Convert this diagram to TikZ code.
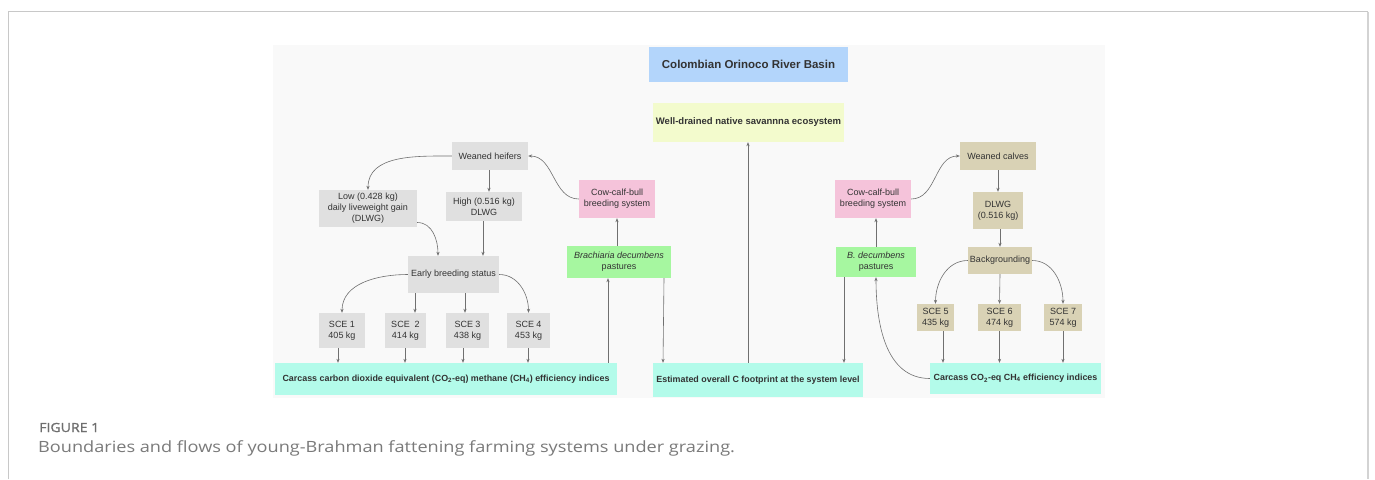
\documentclass[tikz,border=0pt]{standalone}
\usepackage{fontspec}
\setmainfont{Liberation Sans}
\newfontfamily\capfont[FakeStretch=1.17]{Open Sans}
\newfontfamily\figfont[FakeStretch=1.12,FakeBold=1.2]{Open Sans}
\usetikzlibrary{arrows.meta}
\definecolor{bgc}{HTML}{F9F9F9}
\definecolor{grayb}{HTML}{E0E0E0}
\definecolor{pinkb}{HTML}{F5C3DA}
\definecolor{greenb}{HTML}{A6F7A0}
\definecolor{tanb}{HTML}{D9D2B5}
\definecolor{aquab}{HTML}{B3FBEA}
\definecolor{blueb}{HTML}{B3D5FB}
\definecolor{yellowb}{HTML}{F3FBCD}
\definecolor{txt}{HTML}{333333}
\definecolor{linec}{HTML}{707070}
\definecolor{framec}{HTML}{C8C8C8}
\definecolor{capc}{HTML}{7A7A7A}
\definecolor{figc}{HTML}{6E6E6E}
\tikzset{
  box/.style={rectangle, inner sep=0pt, align=center, text=txt,
    font=\fontsize{9}{11}\selectfont},
  bbox/.style={box, font=\fontsize{8.9}{11}\selectfont\bfseries},
  arr/.style={draw=linec, line width=0.6pt, -{Stealth[length=4pt,width=3.2pt]}},
}
\begin{document}
\begin{tikzpicture}[x=1pt,y=1pt]
\useasboundingbox (0,0) rectangle (1375,-479);
\fill[white] (0,0) rectangle (1375,-479);
% frame
\draw[framec, line width=1pt] (8.5,-479) -- (8.5,-11.5) -- (1368,-11.5);
\draw[framec!80, line width=1.6pt] (1368,-11.5) -- (1368,-479);
% diagram background
\fill[bgc] (273,-45) rectangle (1105,-398);

% top
\node[bbox, fill=blueb, minimum width=199pt, minimum height=35pt, font=\fontsize{11.5}{13}\selectfont\bfseries] (basin) at (748.5,-64.5) {Colombian Orinoco River Basin};
\node[bbox, fill=yellowb, minimum width=191pt, minimum height=39pt, font=\fontsize{9.5}{11}\selectfont\bfseries] (sav) at (748.5,-122.5) {Well-drained native savannna ecosystem};
\node[bbox, fill=aquab, minimum width=210pt, minimum height=34pt] (est) at (758,-380) {Estimated overall C footprint at the system level};

% left branch
\node[box, fill=grayb, minimum width=76pt, minimum height=28pt] (heif) at (490,-156) {Weaned heifers};
\node[box, fill=grayb, minimum width=98pt, minimum height=37pt] (low) at (368,-208.5) {Low (0.428 kg)\\daily liveweight gain\\(DLWG)};
\node[box, fill=grayb, minimum width=76pt, minimum height=29pt] (high) at (484,-206.5) {High (0.516 kg)\\DLWG};
\node[box, fill=pinkb, minimum width=76pt, minimum height=38pt] (cow1) at (617,-199) {Cow-calf-bull\\breeding system};
\node[box, fill=greenb, minimum width=104pt, minimum height=32pt] (brach) at (619,-262) {\itshape Brachiaria decumbens\\pastures};
\node[box, fill=grayb, minimum width=91pt, minimum height=37pt] (early) at (453.5,-274.5) {Early breeding status};
\node[box, fill=grayb, minimum width=46pt, minimum height=35pt] (sce1) at (342,-330.5) {SCE 1\\405 kg};
\node[box, fill=grayb, minimum width=41pt, minimum height=35pt] (sce2) at (405.5,-330.5) {SCE~~2\\414 kg};
\node[box, fill=grayb, minimum width=43pt, minimum height=35pt] (sce3) at (467.5,-330.5) {SCE 3\\438 kg};
\node[box, fill=grayb, minimum width=43pt, minimum height=35pt] (sce4) at (528.5,-330.5) {SCE 4\\453 kg};
\node[bbox, fill=aquab, minimum width=342pt, minimum height=32pt] (carc1) at (446,-379) {Carcass carbon dioxide equivalent (CO\textsubscript{2}-eq) methane (CH\textsubscript{4}) efficiency indices};

% right branch
\node[box, fill=pinkb, minimum width=76pt, minimum height=38pt] (cow2) at (873,-199) {Cow-calf-bull\\breeding system};
\node[box, fill=greenb, minimum width=80pt, minimum height=30pt] (bdec) at (876,-262) {\itshape B. decumbens\\pastures};
\node[box, fill=tanb, minimum width=76pt, minimum height=28pt] (calves) at (998,-156) {Weaned calves};
\node[box, fill=tanb, minimum width=50pt, minimum height=37pt] (dlwg) at (998,-210.5) {DLWG\\(0.516 kg)};
\node[box, fill=tanb, minimum width=64pt, minimum height=27pt] (back) at (1000,-260.5) {Backgrounding};
\node[box, fill=tanb, minimum width=37pt, minimum height=27pt] (sce5) at (935.5,-317.5) {SCE 5\\435 kg};
\node[box, fill=tanb, minimum width=43pt, minimum height=27pt] (sce6) at (999.5,-317.5) {SCE 6\\474 kg};
\node[box, fill=tanb, minimum width=38pt, minimum height=27pt] (sce7) at (1063,-317.5) {SCE 7\\574 kg};
\node[bbox, fill=aquab, minimum width=171pt, minimum height=31pt] (carc2) at (1015.5,-378.5) {Carcass CO\textsubscript{2}-eq CH\textsubscript{4} efficiency indices};

% connectors left
\draw[arr] (heif.west) to[out=180,in=90] (low.north);
\draw[arr] ([xshift=-1pt]heif.south) -- ([xshift=5pt]high.north);
\draw[arr] (cow1.west) to[out=180,in=0] (heif.east);
\draw[arr] ([yshift=-14pt]low.east) to[out=0,in=90] ([xshift=-15.5pt]early.north);
\draw[arr] ([xshift=-1pt]high.south) -- ([xshift=29.5pt]early.north);
\draw[arr] (early.west) to[out=180,in=90] (sce1.north);
\draw[arr] ([xshift=-38.5pt]early.south) -- ([xshift=9.5pt]sce2.north);
\draw[arr] ([xshift=11.5pt]early.south) -- ([xshift=-2.5pt]sce3.north);
\draw[arr] (early.east) to[out=0,in=90] (sce4.north);
\draw[arr] ([xshift=-4pt]sce1.south) -- ([xshift=-108pt]carc1.north);
\draw[arr] ([xshift=-0.5pt]sce2.south) -- ([xshift=-41pt]carc1.north);
\draw[arr] ([xshift=-4.5pt]sce3.south) -- ([xshift=17pt]carc1.north);
\draw[arr] ([xshift=-0.5pt]sce4.south) -- ([xshift=82pt]carc1.north);
\draw[arr] ([xshift=162pt]carc1.north) -- ([xshift=-11pt]brach.south);
\draw[arr] ([xshift=-2pt]brach.north) -- (cow1.south);
\draw[arr] ([xshift=45pt]brach.south) -- ([xshift=-95pt]est.north);

% connectors centre
\draw[arr] ([xshift=-10pt]est.north) -- ([xshift=-0.5pt]sav.south);
\draw[arr] ([xshift=-32pt]bdec.south) -- ([xshift=86pt]est.north);

% connectors right
\draw[arr] (bdec.north) -- ([xshift=3pt]cow2.south);
\draw[arr] (cow2.east) to[out=0,in=180] (calves.west);
\draw[arr] (calves.south) -- (dlwg.north);
\draw[arr] ([xshift=2pt]dlwg.south) -- (back.north);
\draw[arr] (back.west) to[out=180,in=90] (sce5.north);
\draw[arr] (back.south) -- (sce6.north);
\draw[arr] (back.east) to[out=0,in=90] (sce7.north);
\draw[arr] ([xshift=7.5pt]sce5.south) -- ([xshift=-72.5pt]carc2.north);
\draw[arr] (sce6.south) -- ([xshift=-16pt]carc2.north);
\draw[arr] (sce7.south) -- ([xshift=47.5pt]carc2.north);
\draw[arr] (carc2.west) to[out=180,in=-90] (bdec.south);

% caption
\node[anchor=base west, inner sep=0pt, text=figc, font=\figfont\fontsize{12.6}{14}\selectfont] (fig) at (39,-432) {FIGURE 1};
\node[anchor=base west, inner sep=0pt, text=capc, font=\capfont\fontsize{15.5}{18}\selectfont] (cap) at (38,-452.3) {Boundaries and flows of young-Brahman fattening farming systems under grazing.};
\end{tikzpicture}
\end{document}
